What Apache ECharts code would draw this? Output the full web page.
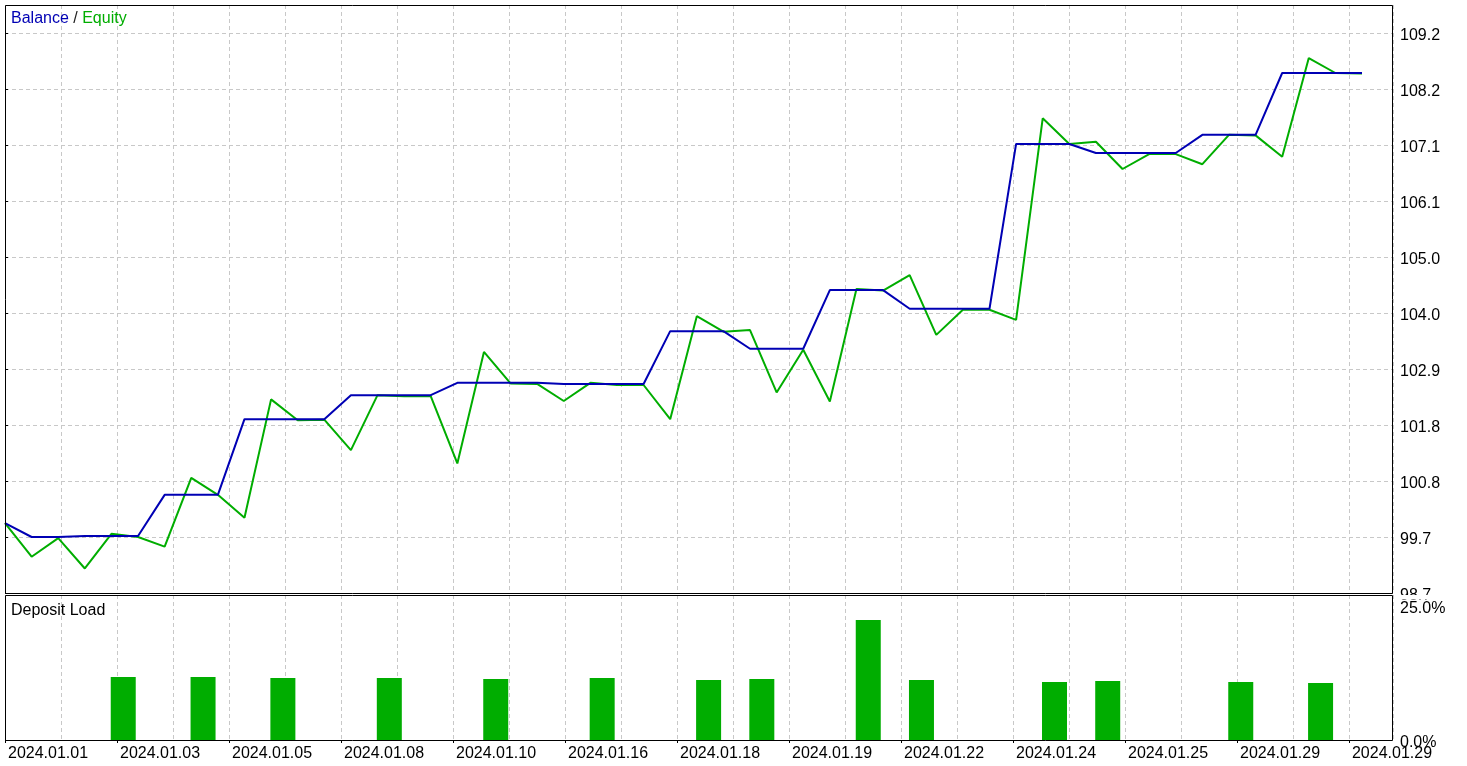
<!DOCTYPE html>
<html>
<head>
<meta charset="utf-8">
<script src="https://cdn.jsdelivr.net/npm/echarts@6/dist/echarts.min.js"></script>
<style>
html,body{margin:0;padding:0;background:#fff;}
#chart{width:1467px;height:766px;}
</style>
</head>
<body>
<div id="chart"></div>
<script>
// ---- data ----
const dateLabels = ['2024.01.01','2024.01.03','2024.01.05','2024.01.08','2024.01.10','2024.01.16','2024.01.18','2024.01.19','2024.01.22','2024.01.24','2024.01.25','2024.01.29','2024.01.29'];
const yTickLabels = ['98.7','99.7','100.8','101.8','102.9','104.0','105.0','106.1','107.1','108.2','109.2'];
const loadTickLabels = ['0.0%','25.0%'];
const balance = [100.01, 99.75, 99.75, 99.77, 99.77, 99.77, 100.54, 100.54, 100.54, 101.96,
  101.96, 101.96, 101.96, 102.41, 102.41, 102.41, 102.41, 102.64, 102.64, 102.64,
  102.64, 102.62, 102.62, 102.62, 102.62, 103.61, 103.61, 103.61, 103.28, 103.28,
  103.28, 104.38, 104.38, 104.38, 104.03, 104.03, 104.03, 104.03, 107.12, 107.12,
  107.12, 106.95, 106.95, 106.95, 106.95, 107.29, 107.29, 107.29, 108.45, 108.45,
  108.45, 108.45];
const equity = [100.01, 99.38, 99.73, 99.16, 99.81, 99.75, 99.57, 100.86, 100.54, 100.11,
  102.33, 101.94, 101.95, 101.38, 102.41, 102.39, 102.39, 101.13, 103.22, 102.63,
  102.62, 102.30, 102.64, 102.60, 102.60, 101.96, 103.89, 103.60, 103.63, 102.46,
  103.26, 102.29, 104.40, 104.37, 104.66, 103.54, 104.01, 104.01, 103.82, 107.60,
  107.12, 107.16, 106.65, 106.93, 106.93, 106.74, 107.29, 107.28, 106.88, 108.73,
  108.45, 108.44];
const depositLoad = [null, null, null, null, 10.86, null, null, 10.86, null, null,
  10.69, null, null, null, 10.69, null, null, null, 10.52, null,
  null, null, 10.69, null, null, null, 10.34, null, 10.52, null,
  null, null, 20.69, null, 10.34, null, null, null, null, 10.00,
  null, 10.17, null, null, null, null, 10.00, null, null, 9.83,
  null, null];

// ---- scale settings ----
const FONT = 'Liberation Sans';
const X_MAX = 52.165;          // trade index range visible
const X_GRID = 2.1046;         // vertical grid spacing (in trade steps)
const X_LABEL = X_GRID * 2;    // label spacing
const Y_MIN = 98.7, Y_INT = 1.05, Y_MAX = 109.725;

const blue = '#0000b4', green = '#00ad00';
const gridLine = { show: true, lineStyle: { color: '#c8c8c8', type: [4, 3], width: 1 } };

const balData = balance.map((v, i) => [i, v]);
const eqData = equity.map((v, i) => [i, v]);
const cats = depositLoad.map((v, i) => String(i));

const chart = echarts.init(document.getElementById('chart'), null, { renderer: 'canvas' });
chart.setOption({
  animation: false,
  backgroundColor: '#fff',
  title: [
    { text: '{b|Balance} / {e|Equity}', left: 11, top: 11, padding: 0,
      textStyle: { fontFamily: FONT, fontSize: 16, fontWeight: 'normal', color: '#222',
        rich: { b: { color: blue, fontFamily: FONT, fontSize: 16 }, e: { color: green, fontFamily: FONT, fontSize: 16 } } } },
    { text: 'Deposit Load', left: 11, top: 603, padding: 0,
      textStyle: { fontFamily: FONT, fontSize: 16, fontWeight: 'normal', color: '#000' } }
  ],
  grid: [
    { left: 5, top: 5, width: 1388, height: 588, show: false },
    { left: 5, top: 595, width: 1388, height: 145, show: false },
    { left: 3.5, top: 595, width: 1383.6, height: 145, show: false }
  ],
  xAxis: [
    { type: 'value', gridIndex: 0, min: 0, max: X_MAX, interval: X_GRID,
      axisLine: { show: false }, axisTick: { show: false }, axisLabel: { show: false }, splitLine: gridLine },
    { type: 'value', gridIndex: 1, min: 0, max: X_MAX, interval: X_GRID,
      axisLine: { show: false }, axisTick: { show: false }, axisLabel: { show: false }, splitLine: gridLine },
    { type: 'value', gridIndex: 1, position: 'bottom', min: 0, max: X_MAX, interval: X_LABEL,
      axisLine: { show: false },
      axisTick: { show: true, length: 3, lineStyle: { color: '#000' } },
      splitLine: { show: false },
      axisLabel: { show: true, showMaxLabel: false, align: 'left', verticalAlign: 'top', margin: 6, padding: [0, 0, 0, 3],
        fontFamily: FONT, fontSize: 16, color: '#000',
        formatter: v => { const k = v / X_LABEL; const i = Math.round(k); return Math.abs(k - i) < 0.01 && dateLabels[i] ? dateLabels[i] : ''; } } },
    { type: 'category', gridIndex: 2, data: cats, boundaryGap: true, show: false }
  ],
  yAxis: [
    { type: 'value', gridIndex: 0, position: 'right', min: Y_MIN, max: Y_MAX, interval: Y_INT,
      axisLine: { show: false },
      axisTick: { show: true, length: 3, lineStyle: { color: '#000' } },
      splitLine: gridLine,
      axisLabel: { show: true, showMaxLabel: false, margin: 7, fontFamily: FONT, fontSize: 16, color: '#000',
        rich: { a: { fontFamily: FONT, fontSize: 16, color: '#000', padding: [5, 0, 0, 0] } },
        formatter: v => { const k = (v - Y_MIN) / Y_INT; const i = Math.round(k); return Math.abs(k - i) < 0.01 && yTickLabels[i] ? '{a|' + yTickLabels[i] + '}' : ''; } } },
    { type: 'value', gridIndex: 1, position: 'right', min: 0, max: 25, interval: 25,
      axisLine: { show: false },
      axisTick: { show: false },
      splitLine: { show: false },
      axisLabel: { show: true, margin: 7, fontFamily: FONT, fontSize: 16, color: '#000',
        rich: { t: { fontFamily: FONT, fontSize: 16, color: '#000', padding: [27, 0, 0, 0] },
                z: { fontFamily: FONT, fontSize: 16, color: '#000', padding: [5, 0, 0, 0] } },
        formatter: v => v >= 25 ? '{t|' + loadTickLabels[1] + '}' : '{z|' + loadTickLabels[0] + '}' } },
    { type: 'value', gridIndex: 2, min: 0, max: 25, show: false }
  ],
  series: [
    { name: 'Equity', type: 'line', xAxisIndex: 0, yAxisIndex: 0, data: eqData, symbol: 'none',
      lineStyle: { color: green, width: 2 }, z: 3 },
    { name: 'Balance', type: 'line', xAxisIndex: 0, yAxisIndex: 0, data: balData, symbol: 'none',
      lineStyle: { color: blue, width: 2 }, z: 4 },
    { name: 'Deposit Load', type: 'bar', xAxisIndex: 3, yAxisIndex: 2, data: depositLoad,
      barWidth: 25, itemStyle: { color: green } }
  ],
  graphic: [
    { type: 'rect', z: 100, shape: { x: 1396, y: 595, width: 71, height: 4.5 }, style: { fill: '#fff' } },
    { type: 'rect', z: 101, shape: { x: 5.5, y: 5.5, width: 1387, height: 588 }, style: { fill: null, stroke: '#000', lineWidth: 1 } },
    { type: 'rect', z: 101, shape: { x: 5.5, y: 595.5, width: 1387, height: 145 }, style: { fill: null, stroke: '#000', lineWidth: 1 } }
  ]
});
</script>
</body>
</html>
